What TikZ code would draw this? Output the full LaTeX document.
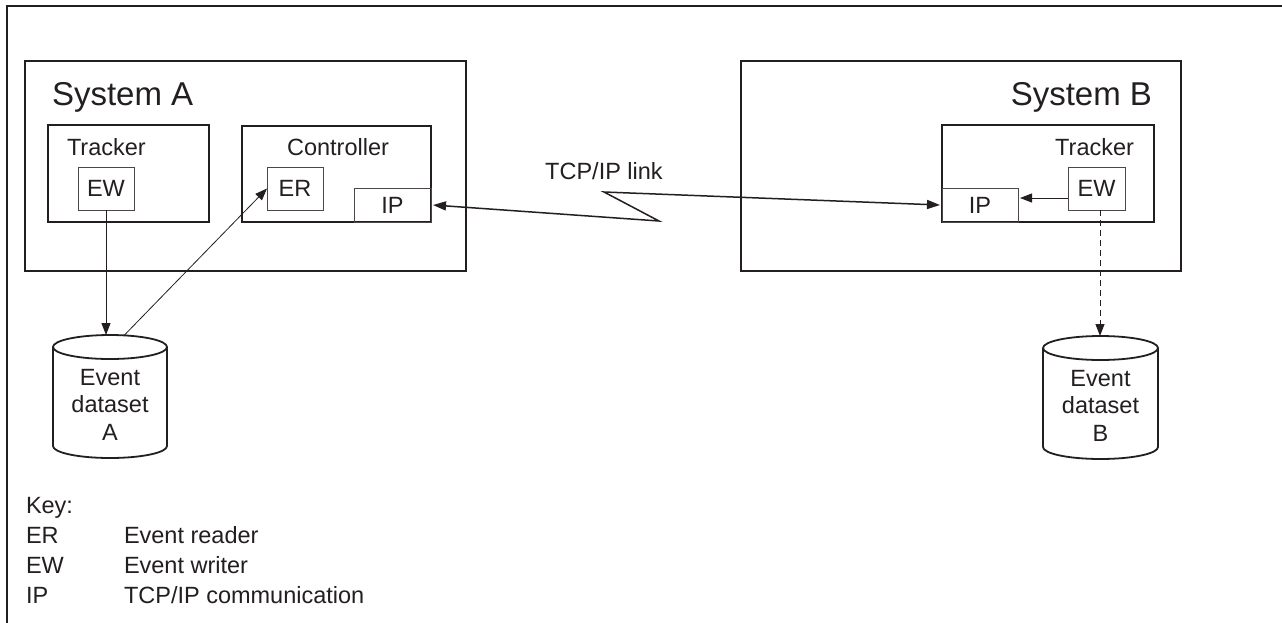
\documentclass[tikz,border=0pt]{standalone}
\usepackage{fontspec}
\setmainfont{Liberation Sans}
\usetikzlibrary{arrows.meta,calc}
\definecolor{ink}{RGB}{35,31,32}
\definecolor{thinline}{RGB}{75,71,72}
\begin{document}
\begin{tikzpicture}[x=1pt,y=-1pt,
  every node/.style={text=ink, font=\fontsize{23.5}{27.5}\selectfont, inner sep=0pt, outer sep=0pt},
  biglabel/.style={font=\fontsize{33}{36}\selectfont},
  sysbox/.style={draw=ink, line width=2.2pt, rectangle},
  compbox/.style={draw=ink, line width=1.8pt, rectangle},
  smallbox/.style={draw=thinline, line width=1pt, rectangle},
  dbline/.style={draw=ink, line width=1.8pt},
  conn/.style={draw=ink, line width=1pt},
  arr/.style={conn, -{Triangle[length=12pt,width=9pt]}},
  thinarr/.style={draw=ink, line width=0.8pt, -{Triangle[length=12pt,width=9pt]}},
  linkarr/.style={draw=ink, line width=1.5pt, {Triangle[length=13pt,width=9pt]}-{Triangle[length=13pt,width=9pt]}},
  dasharr/.style={arr, dash pattern=on 6pt off 4pt}
]
\useasboundingbox (0,0) rectangle (1282,622);
\fill[white] (0,0) rectangle (1282,622);

% outer frame (top and left edges)
\draw[ink, line width=1.5pt] (7,630) -- (7,6) -- (1290,6);

% ---------- System A ----------
\node[sysbox, minimum width=441pt, minimum height=210pt] (sysA) at (245.5,166) {};
\node[biglabel, anchor=base west] (sysAlab) at (52,105) {System A};
\node[compbox, minimum width=161pt, minimum height=97pt] (trkA) at (128.5,173.5) {};
\node[anchor=base west] (trkAlab) at (67,155) {Tracker};
\node[smallbox, minimum width=56pt, minimum height=43pt] (ewA) at (106,188.5) {EW};
\node[compbox, minimum width=189pt, minimum height=96pt] (ctl) at (336.5,174) {};
\node[anchor=base] (ctllab) at (338,155) {Controller};
\node[smallbox, minimum width=56pt, minimum height=43pt] (er) at (295,188.5) {ER};
\node[smallbox, minimum width=77pt, minimum height=34pt] (ipA) at (392.5,205) {IP};

% ---------- System B ----------
\node[sysbox, minimum width=440pt, minimum height=210pt] (sysB) at (961,166) {};
\node[biglabel, anchor=base east] (sysBlab) at (1152,105) {System B};
\node[compbox, minimum width=212pt, minimum height=97pt] (trkB) at (1048,173.5) {};
\node[anchor=base east] (trkBlab) at (1134,155) {Tracker};
\node[smallbox, minimum width=57pt, minimum height=43pt] (ewB) at (1096.5,188.5) {EW};
\node[smallbox, minimum width=76pt, minimum height=34pt] (ipB) at (980,205) {IP};

% ---------- Event dataset A ----------
\draw[dbline] (53,347) -- (53,446) arc[start angle=180,end angle=360,x radius=57pt,y radius=12pt] -- (167,347);
\draw[dbline] (110,347) ellipse [x radius=57pt, y radius=12pt];
\node[align=center] (dbA) at (110,404.5) {Event\\dataset\\A};
\coordinate (dbAn) at (106,335);
\coordinate (dbAr) at (124,335.5);

% ---------- Event dataset B ----------
\draw[dbline] (1043,348) -- (1043,447) arc[start angle=180,end angle=360,x radius=57.5pt,y radius=12pt] -- (1158,348);
\draw[dbline] (1100.5,348) ellipse [x radius=57.5pt, y radius=12pt];
\node[align=center] (dbB) at (1100.5,405.5) {Event\\dataset\\B};
\coordinate (dbBn) at (1100,336);

% ---------- connectors ----------
\draw[arr] (ewA.south) -- (dbAn);
\draw[thinarr] (dbAr) -- (er.west);
\coordinate (z1) at (659,221);
\coordinate (z2) at (604,192);
\draw[linkarr] ([xshift=2pt]ipA.east) -- (z1) -- (z2) -- ([xshift=-2pt]ipB.west);
\node[anchor=base] (linklab) at (604,179) {TCP/IP link};
\coordinate (ewBw) at ([yshift=-9.5pt]ewB.west);
\coordinate (ipBe) at ([xshift=2pt]ipB.east);
\draw[arr] (ewBw) -- (ewBw -| ipBe);
\draw[dasharr] (ewB.south -| dbBn) -- (dbBn);

% ---------- key ----------
\node[anchor=base west] (key) at (26,513) {Key:};
\node[anchor=base west] (kER) at (26,543) {ER};
\node[anchor=base west] (kERd) at (124,543) {Event reader};
\node[anchor=base west] (kEW) at (26,573) {EW};
\node[anchor=base west] (kEWd) at (124,573) {Event writer};
\node[anchor=base west] (kIP) at (26,603) {IP};
\node[anchor=base west] (kIPd) at (124,603) {TCP/IP communication};
\end{tikzpicture}
\end{document}
